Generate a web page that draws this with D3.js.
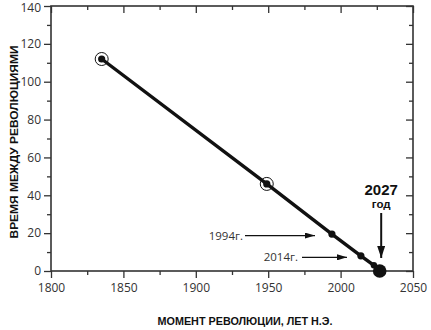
<!DOCTYPE html>
<html>
<head>
<meta charset="utf-8">
<script src="https://cdn.jsdelivr.net/npm/d3@7"></script>
<style>
  html, body { margin: 0; padding: 0; background: #fff; }
  svg { display: block; }
  .tick text { font-family: "Open Sans", "Liberation Sans", sans-serif; font-size: 12px; fill: #333; }
</style>
</head>
<body>
<svg id="chart" width="431" height="330"></svg>
<script>
// Revolution moments (year) and time to the next revolution (years)
const years = [1835, 1949, 1994, 2014, 2023, 2027];
const gaps = [112, 46, 19.5, 8, 3, 0];
const markerKinds = ["ring", "ring", "dot", "dot", "small", "big"];

const xTicks = [1800, 1850, 1900, 1950, 2000, 2050];
const yTicks = [0, 20, 40, 60, 80, 100, 120, 140];

const callouts = [
  { label: "1994г.", year: 1994 },
  { label: "2014г.", year: 2014 }
];
const finalLabel = ["2027", "год"];
const xTitle = "МОМЕНТ РЕВОЛЮЦИИ, ЛЕТ Н.Э.";
const yTitle = "ВРЕМЯ МЕЖДУ РЕВОЛЮЦИЯМИ";

const svg = d3.select("#chart");
const plotL = 51, plotR = 413, plotT = 6, plotB = 271;

const x = d3.scaleLinear().domain([1800, 2050]).range([plotL, plotR]);
const y = d3.scaleLinear().domain([0, 140]).range([plotB, plotT]);

const axisColor = "#333";

// minor ticks (every 25 years / 10 units)
const xMinor = d3.range(1825, 2050, 50);
const yMinor = d3.range(10, 140, 20);

function styleAxis(g) {
  g.selectAll(".domain").remove();
  g.selectAll(".tick line").attr("stroke", axisColor).attr("stroke-width", 1.3);
}

// bottom axis
svg.append("g").attr("transform", `translate(0,${plotB})`)
  .call(d3.axisBottom(x).tickValues(xTicks).tickFormat(d3.format("d")).tickSize(7).tickPadding(5))
  .call(styleAxis);
svg.append("g").attr("transform", `translate(0,${plotB})`)
  .call(d3.axisBottom(x).tickValues(xMinor).tickFormat("").tickSize(4))
  .call(styleAxis);

// top axis (ticks inward)
svg.append("g").attr("transform", `translate(0,${plotT})`)
  .call(d3.axisBottom(x).tickValues(xTicks).tickFormat("").tickSize(7))
  .call(styleAxis);
svg.append("g").attr("transform", `translate(0,${plotT})`)
  .call(d3.axisBottom(x).tickValues(xMinor).tickFormat("").tickSize(4))
  .call(styleAxis);

// left axis; the topmost label is nudged down so it stays inside the page
svg.append("g").attr("transform", `translate(${plotL},0)`)
  .call(d3.axisLeft(y).tickValues(yTicks).tickSize(7).tickPadding(3))
  .call(styleAxis)
  .call(g => g.selectAll(".tick text").filter(d => d === 140).attr("dy", "0.45em"));
svg.append("g").attr("transform", `translate(${plotL},0)`)
  .call(d3.axisLeft(y).tickValues(yMinor).tickFormat("").tickSize(4))
  .call(styleAxis);

// right axis (ticks inward)
svg.append("g").attr("transform", `translate(${plotR},0)`)
  .call(d3.axisLeft(y).tickValues(yTicks).tickFormat("").tickSize(7))
  .call(styleAxis);
svg.append("g").attr("transform", `translate(${plotR},0)`)
  .call(d3.axisLeft(y).tickValues(yMinor).tickFormat("").tickSize(4))
  .call(styleAxis);

// frame
svg.append("rect")
  .attr("x", plotL).attr("y", plotT)
  .attr("width", plotR - plotL).attr("height", plotB - plotT)
  .attr("fill", "none").attr("stroke", axisColor).attr("stroke-width", 1.6);

// the trend line
const pts = years.map((yr, i) => ({ yr, v: gaps[i], kind: markerKinds[i] }));
svg.append("path")
  .datum(pts)
  .attr("fill", "none")
  .attr("stroke", "#111")
  .attr("stroke-width", 3.4)
  .attr("d", d3.line().x(d => x(d.yr)).y(d => y(d.v)));

// markers
const radius = { ring: 3.6, dot: 3.6, small: 3.2, big: 6.8 };
svg.selectAll(".ring").data(pts.filter(d => d.kind === "ring")).join("circle")
  .attr("class", "ring")
  .attr("cx", d => x(d.yr)).attr("cy", d => y(d.v)).attr("r", 6.5)
  .attr("fill", "none").attr("stroke", "#111").attr("stroke-width", 1);
svg.selectAll(".pt").data(pts).join("circle")
  .attr("class", "pt")
  .attr("cx", d => x(d.yr)).attr("cy", d => y(d.v)).attr("r", d => radius[d.kind])
  .attr("fill", "#111");

// arrow heads
const defs = svg.append("defs");
defs.append("marker")
  .attr("id", "arr").attr("viewBox", "0 0 10 6").attr("refX", 10).attr("refY", 3)
  .attr("markerWidth", 10).attr("markerHeight", 6).attr("markerUnits", "userSpaceOnUse")
  .attr("orient", "auto")
  .append("path").attr("d", "M0,0L10,3L0,6Z").attr("fill", "#111");
defs.append("marker")
  .attr("id", "arrBig").attr("viewBox", "0 0 12 8").attr("refX", 12).attr("refY", 4)
  .attr("markerWidth", 12).attr("markerHeight", 8).attr("markerUnits", "userSpaceOnUse")
  .attr("orient", "auto")
  .append("path").attr("d", "M0,0L12,4L0,8Z").attr("fill", "#111");

// callouts pointing at 1994 and 2014
const calloutGeom = [
  { tx: 243, x1: 245, x2: 315 },
  { tx: 298, x1: 302, x2: 347 }
];
callouts.forEach((c, i) => {
  const g = calloutGeom[i];
  const v = gaps[years.indexOf(c.year)];
  const yy = y(v) + 1.5;
  svg.append("text").attr("x", g.tx).attr("y", yy + 4)
    .attr("text-anchor", "end")
    .attr("font-family", "'Open Sans', 'Liberation Sans', sans-serif")
    .attr("font-size", 11.5).attr("fill", "#333")
    .text(c.label);
  svg.append("line").attr("x1", g.x1).attr("x2", g.x2).attr("y1", yy).attr("y2", yy)
    .attr("stroke", "#111").attr("stroke-width", 1.3).attr("marker-end", "url(#arr)");
});

// final point label with down arrow
const fx = x(years[years.length - 1]) + 1.5;
svg.append("text").attr("x", fx).attr("y", 195)
  .attr("text-anchor", "middle")
  .attr("font-family", "'Liberation Sans', Arial, sans-serif").attr("font-weight", "bold")
  .attr("font-size", 15).attr("fill", "#111").text(finalLabel[0]);
svg.append("text").attr("x", fx).attr("y", 208)
  .attr("text-anchor", "middle")
  .attr("font-family", "'Liberation Sans', Arial, sans-serif").attr("font-weight", "bold")
  .attr("font-size", 11.5).attr("fill", "#111").text(finalLabel[1]);
svg.append("line").attr("x1", fx).attr("x2", fx).attr("y1", 213).attr("y2", 258)
  .attr("stroke", "#111").attr("stroke-width", 2).attr("marker-end", "url(#arrBig)");

// axis titles
svg.append("text")
  .attr("transform", "translate(18,142) rotate(-90)")
  .attr("text-anchor", "middle")
  .attr("font-family", "'Liberation Sans Narrow', 'Liberation Sans', sans-serif").attr("font-weight", "bold")
  .attr("font-size", 10.5).attr("fill", "#111")
  .attr("textLength", 193).attr("lengthAdjust", "spacingAndGlyphs")
  .text(yTitle);
svg.append("text")
  .attr("x", 245).attr("y", 325)
  .attr("text-anchor", "middle")
  .attr("font-family", "'Liberation Sans Narrow', 'Liberation Sans', sans-serif").attr("font-weight", "bold")
  .attr("font-size", 10.5).attr("fill", "#111")
  .attr("textLength", 175).attr("lengthAdjust", "spacingAndGlyphs")
  .text(xTitle);
</script>
</body>
</html>
